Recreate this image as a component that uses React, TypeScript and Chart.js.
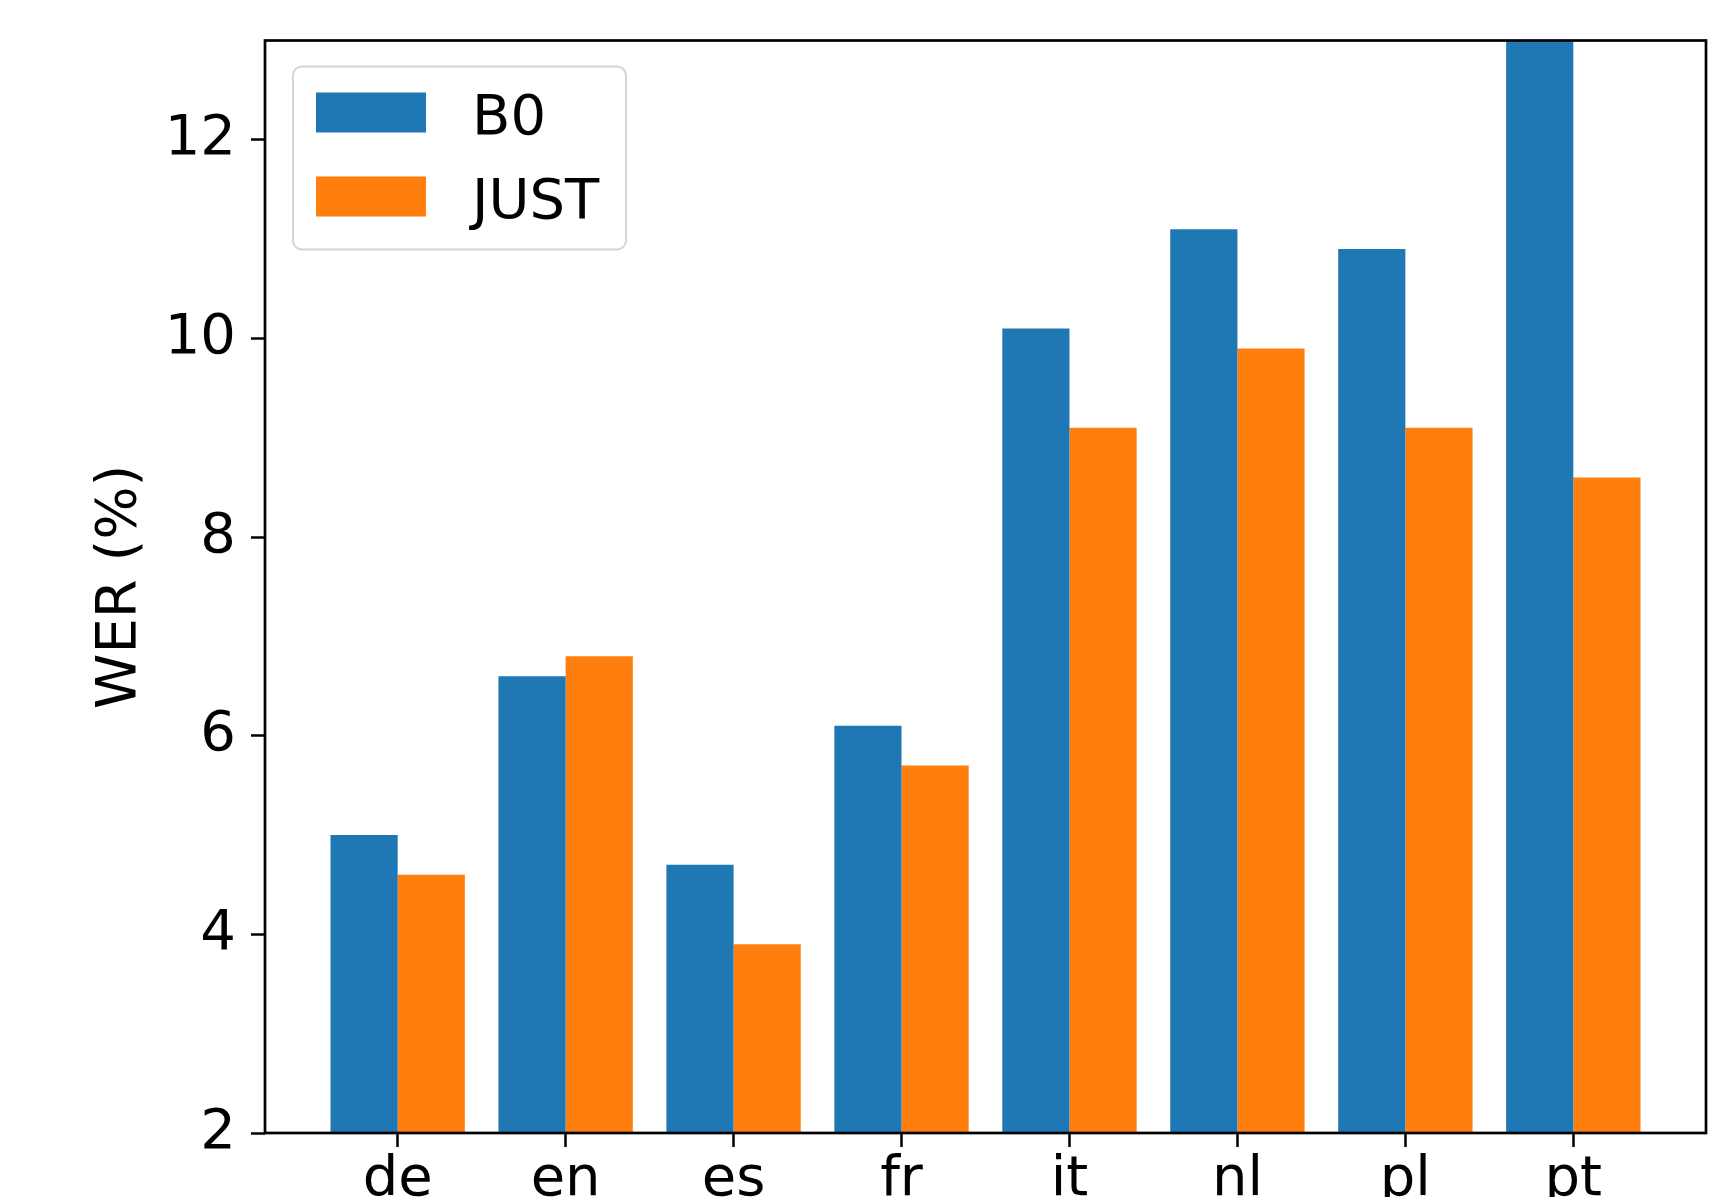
import React, { useEffect, useRef } from "react";
import { Chart, registerables } from "chart.js";

Chart.register(...registerables);

const categories = ["de", "en", "es", "fr", "it", "nl", "pl", "pt"];
const seriesNames = ["B0", "JUST"];
const b0Values = [5.0, 6.6, 4.7, 6.1, 10.1, 11.1, 10.9, 13.5];
const justValues = [4.6, 6.8, 3.9, 5.7, 9.1, 9.9, 9.1, 8.6];
const yTicks = [2, 4, 6, 8, 10, 12];
const yMin = 2;
const yMax = 13;
const xMin = -0.79;
const xMax = 7.79;
const yLabel = "WER (%)";
const colors = ["#1f77b4", "#ff7f0e"];

const FONT = "'DejaVu Sans', sans-serif";
const FS = 56;

const framePlugin = {
  id: "mplFrame",
  afterDatasetsDraw(chart: any) {
    const { ctx, chartArea: a } = chart;
    ctx.save();
    ctx.lineWidth = 2.7;
    ctx.strokeStyle = "#000";
    ctx.strokeRect(a.left, a.top, a.right - a.left, a.bottom - a.top);
    ctx.restore();
  },
};

const legendPlugin = {
  id: "mplLegend",
  afterDraw(chart: any) {
    const { ctx, chartArea: a } = chart;
    ctx.save();
    const x = a.left + 28;
    const y = a.top + 26;
    const w = 333;
    const h = 183;
    ctx.beginPath();
    ctx.roundRect(x, y, w, h, 9);
    ctx.fillStyle = "rgba(255,255,255,0.8)";
    ctx.fill();
    ctx.lineWidth = 2;
    ctx.strokeStyle = "#d4d4d4";
    ctx.stroke();
    chart.data.datasets.forEach((ds: any, i: number) => {
      const hy = a.top + 52 + i * 84;
      ctx.fillStyle = ds.backgroundColor;
      ctx.fillRect(a.left + 51, hy, 110, 40);
      ctx.fillStyle = "#000";
      ctx.font = `${FS}px ${FONT}`;
      ctx.textBaseline = "alphabetic";
      ctx.textAlign = "left";
      ctx.fillText(ds.label, a.left + 207, hy + 20.5 + 20.5);
    });
    ctx.restore();
  },
};

export default function App() {
  const ref = useRef<HTMLCanvasElement | null>(null);

  useEffect(() => {
    if (!ref.current) return;
    const mk = (vals: number[]) => vals.map((v, i) => ({ x: i, y: v }));
    const chart = new Chart(ref.current, {
      type: "bar",
      data: {
        datasets: [
          {
            label: seriesNames[0],
            data: mk(b0Values),
            backgroundColor: colors[0],
            borderWidth: 0,
            categoryPercentage: 0.8,
            barPercentage: 1.0,
            clip: 0,
          } as any,
          {
            label: seriesNames[1],
            data: mk(justValues),
            backgroundColor: colors[1],
            borderWidth: 0,
            categoryPercentage: 0.8,
            barPercentage: 1.0,
            clip: 0,
          } as any,
        ],
      },
      options: {
        animation: false,
        responsive: false,
        maintainAspectRatio: false,
        layout: { padding: { top: 40.5, right: 17, left: 0, bottom: 0 } },
        plugins: {
          legend: { display: false },
          tooltip: { enabled: false },
        },
        scales: {
          x: {
            type: "linear",
            min: xMin,
            max: xMax,
            offset: false,
            afterBuildTicks: (scale: any) => {
              scale.ticks = categories.map((_, i) => ({ value: i }));
            },
            afterFit: (scale: any) => {
              scale.height = 64;
              scale.paddingLeft = 0;
              scale.paddingRight = 0;
            },
            ticks: {
              autoSkip: false,
              maxRotation: 0,
              minRotation: 0,
              padding: 0,
              color: "#000",
              font: { family: FONT, size: FS },
              callback: (v: any) => categories[Math.round(Number(v))] ?? "",
            },
            grid: {
              display: true,
              offset: false,
              drawOnChartArea: false,
              drawTicks: true,
              tickLength: 14,
              tickColor: "#000",
              tickWidth: 2.5,
            },
            border: { display: false },
          },
          y: {
            type: "linear",
            min: yMin,
            max: yMax,
            afterBuildTicks: (scale: any) => {
              scale.ticks = yTicks.map((v) => ({ value: v }));
            },
            afterFit: (scale: any) => {
              scale.width = 265;
              scale.paddingTop = 0;
              scale.paddingBottom = 0;
            },
            ticks: {
              padding: 15,
              color: "#000",
              font: { family: FONT, size: FS },
            },
            grid: {
              display: true,
              offset: false,
              drawOnChartArea: false,
              drawTicks: true,
              tickLength: 14,
              tickColor: "#000",
              tickWidth: 2.5,
            },
            border: { display: false },
            title: {
              display: true,
              text: yLabel,
              color: "#000",
              font: { family: FONT, size: FS },
              padding: { top: 87, bottom: 0 },
            },
          },
        },
      },
      plugins: [framePlugin, legendPlugin],
    } as any);
    return () => chart.destroy();
  }, []);

  return (
    <div
      style={{
        position: "fixed",
        left: 0,
        top: 0,
        width: 1723,
        height: 1197,
        overflow: "hidden",
        background: "#fff",
      }}
    >
      <canvas ref={ref} width={1723} height={1197} style={{ display: "block" }} />
    </div>
  );
}
